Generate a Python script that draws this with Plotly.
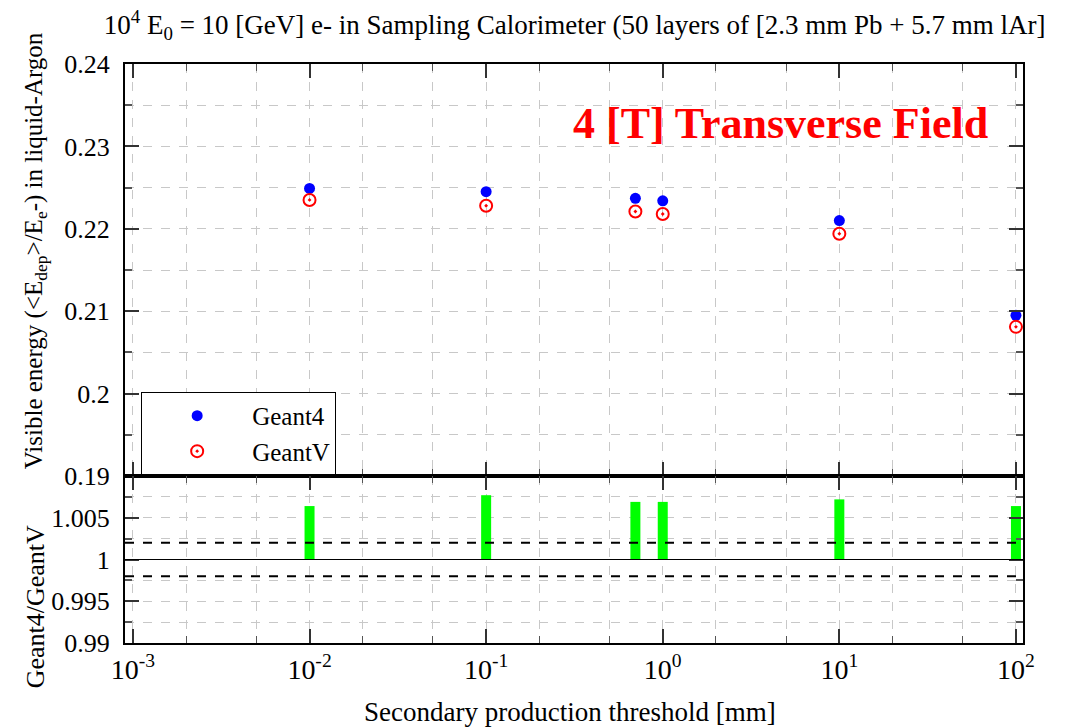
import plotly.graph_objects as go
from plotly.subplots import make_subplots

# Data
thresholds = [0.01, 0.1, 0.7, 1.0, 10.0, 100.0]
geant4 = [0.2249, 0.2245, 0.2237, 0.2234, 0.2210, 0.2095]
geantv = [0.2235, 0.2228, 0.2221, 0.2218, 0.2194, 0.2081]
ratio = [1.0064, 1.0077, 1.0069, 1.0069, 1.0072, 1.0064]
ratio_band = [1.002, 0.998]
x_tickvals = [0.001, 0.01, 0.1, 1, 10, 100]
x_ticktext = ["10<sup>-3</sup>", "10<sup>-2</sup>", "10<sup>-1</sup>",
              "10<sup>0</sup>", "10<sup>1</sup>", "10<sup>2</sup>"]

FONT = "Liberation Serif"
GRID = "#c8c8c8"

fig = make_subplots(rows=2, cols=1, shared_xaxes=True, vertical_spacing=0,
                    row_heights=[412, 167])

fig.add_trace(go.Scatter(x=thresholds, y=geant4, mode="markers", name="Geant4",
                         marker=dict(symbol="circle", color="#0000ff", size=11)),
              row=1, col=1)
fig.add_trace(go.Scatter(x=thresholds, y=geantv, mode="markers", name="GeantV",
                         marker=dict(symbol="circle-open-dot", color="#ff0000", size=12,
                                     line=dict(width=2, color="#ff0000"))),
              row=1, col=1)

# ratio bars drawn as thick vertical segments from 1 to the ratio
bx, by = [], []
for xv, rv in zip(thresholds, ratio):
    bx += [xv, xv, None]
    by += [1.0, rv, None]
fig.add_trace(go.Scatter(x=bx, y=by, mode="lines", showlegend=False,
                         line=dict(color="#00ff00", width=10)), row=2, col=1)

# reference lines
fig.add_hline(y=1.0, line=dict(color="black", width=1), row=2, col=1)
for v in ratio_band:
    fig.add_hline(y=v, line=dict(color="black", width=2, dash="dash"), row=2, col=1)

xcommon = dict(type="log", range=[-3.045, 2.04], showline=True, linewidth=2,
               linecolor="black", mirror="allticks", ticks="inside", ticklen=14,
               tickwidth=1.5, tickcolor="#333", tickvals=x_tickvals,
               showgrid=True, gridcolor=GRID, griddash="dash", gridwidth=1,
               minor=dict(ticks="inside", ticklen=7, tickwidth=1, tickcolor="#555",
                          showgrid=True, gridcolor=GRID, griddash="dash", gridwidth=1),
               zeroline=False)
fig.update_xaxes(**xcommon)
fig.update_xaxes(showticklabels=False, row=1, col=1)
fig.update_xaxes(ticktext=x_ticktext, showticklabels=True,
                 tickfont=dict(family=FONT, size=28, color="black"),
                 row=2, col=1)

ycommon = dict(showline=True, linewidth=2, linecolor="black", mirror="allticks",
               ticks="inside", ticklen=14, tickwidth=1.5, tickcolor="#333",
               showgrid=True, gridcolor=GRID, griddash="dash", gridwidth=1,
               zeroline=False, ticklabelstandoff=8,
               tickfont=dict(family=FONT, size=26, color="black"))
fig.update_yaxes(**ycommon)
fig.update_yaxes(range=[0.19, 0.24], dtick=0.01, tick0=0.19,
                 minor=dict(dtick=0.005, ticks="inside", ticklen=7, tickcolor="#555",
                            showgrid=True, gridcolor=GRID, griddash="dash"),
                 row=1, col=1)
fig.update_yaxes(range=[0.99, 1.01], tickvals=[0.99, 0.995, 1.0, 1.005],
                 ticktext=["0.99", "0.995", "1", "1.005"],
                 minor=dict(tickvals=[0.9925, 0.9975, 1.0025, 1.0075, 1.01],
                            ticks="inside", ticklen=7, tickcolor="#555",
                            showgrid=True, gridcolor=GRID, griddash="dash"),
                 row=2, col=1)

fig.add_annotation(text="4 [T] Transverse Field", xref="paper", yref="paper",
                   x=0.963, y=0.898, xanchor="right", yanchor="middle", showarrow=False,
                   font=dict(family=FONT, size=44, color="#ff0000", weight="bold"))

fig.add_annotation(text="Visible energy (&lt;E<sub>dep</sub>&gt;/E<sub>e</sub>-) in liquid-Argon",
                   xref="paper", yref="paper", x=-0.100, y=0.677, textangle=-90,
                   xanchor="center", yanchor="middle", showarrow=False,
                   font=dict(family=FONT, size=25, color="black"))
fig.add_annotation(text="Geant4/GeantV",
                   xref="paper", yref="paper", x=-0.100, y=0.062, textangle=-90,
                   xanchor="center", yanchor="middle", showarrow=False,
                   font=dict(family=FONT, size=26, color="black"))
fig.add_annotation(text="Secondary production threshold [mm]",
                   xref="paper", yref="paper", x=0.495, y=-0.119,
                   xanchor="center", yanchor="middle", showarrow=False,
                   font=dict(family=FONT, size=27, color="black"))

fig.update_layout(
    width=1074, height=727,
    margin=dict(l=125, r=51, t=64, b=84),
    paper_bgcolor="white", plot_bgcolor="white",
    font=dict(family=FONT, color="black"),
    title=dict(text="10<sup>4</sup> E<sub>0</sub> = 10 [GeV] e- in Sampling Calorimeter (50 layers of [2.3 mm Pb + 5.7 mm lAr]",
               x=0.535, xanchor="center", y=0.966, yanchor="middle",
               font=dict(family=FONT, size=27, color="black")),
    legend=dict(x=0.018, y=0.362, xanchor="left", yanchor="middle",
                bgcolor="white", bordercolor="black", borderwidth=1,
                font=dict(family=FONT, size=25, color="black"), itemwidth=100,
                tracegroupgap=0),
    showlegend=True,
)

fig.write_html("out.html", config={"displayModeBar": False},
               post_script="document.body.style.margin='0px';document.body.style.padding='0px';")
